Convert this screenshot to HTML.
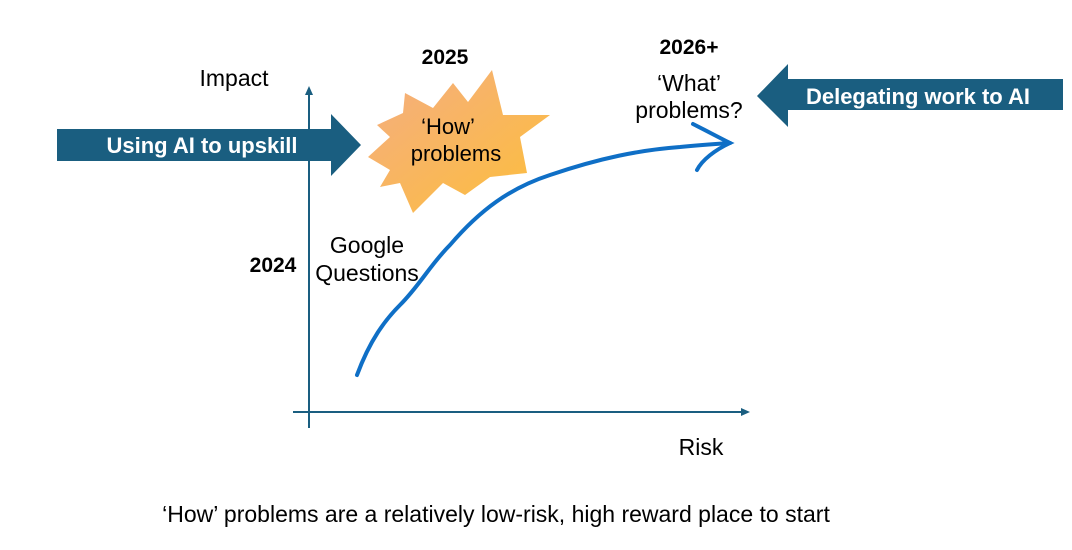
<!DOCTYPE html>
<html><head><meta charset="utf-8"><style>
html,body{margin:0;padding:0;background:#fff;}
svg{display:block;}
text{font-family:"Liberation Sans",sans-serif;}
</style></head><body>
<svg width="1072" height="550" viewBox="0 0 1072 550" xmlns="http://www.w3.org/2000/svg">
<defs>
<linearGradient id="g" x1="0" y1="0" x2="1" y2="1">
<stop offset="0" stop-color="#f4ad82"/><stop offset="1" stop-color="#fdbf3a"/>
</linearGradient>
</defs>
<line x1="309" y1="428" x2="309" y2="92" stroke="#1a5e80" stroke-width="2"/>
<polygon points="309,86 305,95 313,95" fill="#1a5e80"/>
<line x1="293" y1="412" x2="744" y2="412" stroke="#1a5e80" stroke-width="2"/>
<polygon points="750,412 741,408 741,416" fill="#1a5e80"/>
<polygon points="57,129 331,129 331,114 361,145 331,176 331,161 57,161" fill="#1a5e80"/>
<text x="202" y="153" font-size="22" font-weight="bold" fill="#fff" text-anchor="middle">Using AI to upskill</text>
<polygon points="757,96 788,64 788,79 1063,79 1063,110 788,110 788,127" fill="#1a5e80"/>
<text x="918" y="104" font-size="22" font-weight="bold" fill="#fff" text-anchor="middle">Delegating work to AI</text>
<polygon fill="url(#g)" points="492,70 503,115 550,115 520,137 527,173 490,177 465,195 443,183 413,213 400,183 380,187 390,170 368,157 390,137 377,125 403,113 405,93 433,108 453,83 468,102"/>
<text x="448" y="134" font-size="22" text-anchor="middle" fill="#000">‘How’</text>
<text x="456" y="161" font-size="22" text-anchor="middle" fill="#000">problems</text>
<text x="445" y="64" font-size="21" font-weight="bold" text-anchor="middle">2025</text>
<text x="689" y="54" font-size="21" font-weight="bold" text-anchor="middle">2026+</text>
<text x="689" y="91" font-size="23" text-anchor="middle">‘What’</text>
<text x="689" y="118" font-size="23" text-anchor="middle">problems?</text>
<text x="234" y="86" font-size="23" text-anchor="middle">Impact</text>
<text x="273" y="272" font-size="21" font-weight="bold" text-anchor="middle">2024</text>
<text x="367" y="253" font-size="23" text-anchor="middle">Google</text>
<text x="367" y="281" font-size="23" text-anchor="middle">Questions</text>
<text x="701" y="455" font-size="23" text-anchor="middle">Risk</text>
<text x="496" y="522" font-size="23" text-anchor="middle">‘How’ problems are a relatively low-risk, high reward place to start</text>
<path d="M357,375 C370,340 385,320 400,305 C420,285 430,265 450,245 C480,210 510,188 550,175 C600,158 640,150 680,147 C700,145 715,144 730,143" fill="none" stroke="#0f6fc6" stroke-width="4" stroke-linecap="round"/>
<path d="M693,124 C705,130 718,137 730,143 C715,150 702,160 697,170" fill="none" stroke="#0f6fc6" stroke-width="4" stroke-linecap="round"/>
</svg>
</body></html>
